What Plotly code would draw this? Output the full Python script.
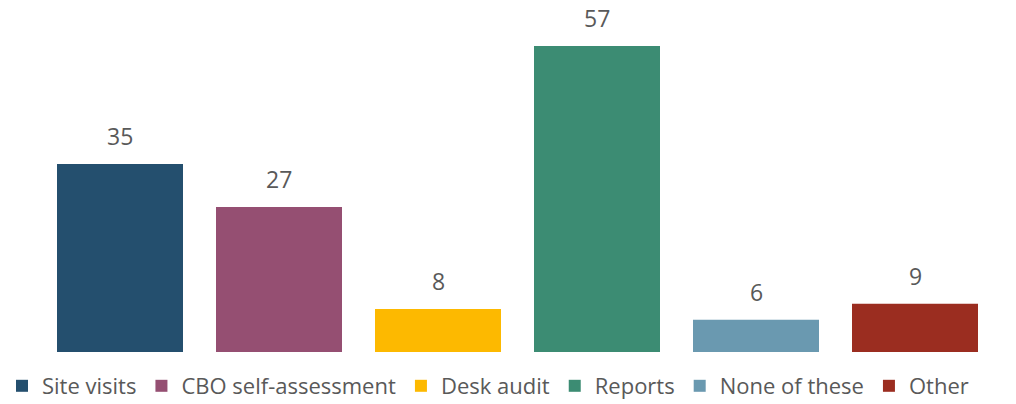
import plotly.graph_objects as go

categories = ["Site visits", "CBO self-assessment", "Desk audit", "Reports", "None of these", "Other"]
values = [35, 27, 8, 57, 6, 9]
colors = ["#244F6E", "#954F72", "#FDB900", "#3C8C73", "#6A99B0", "#9B2D20"]

FONT = "Open Sans"
GREY = "#595959"
W, H = 1016, 404

fig = go.Figure()
for cat, val, col in zip(categories, values, colors):
    fig.add_trace(go.Bar(
        x=[cat], y=[val], name=cat,
        marker=dict(color=col, line=dict(width=0)),
        hoverinfo="x+y",
    ))
    fig.add_annotation(
        x=cat, y=val, text=str(val), showarrow=False,
        yanchor="bottom", yshift=10,
        font=dict(family=FONT, size=23, color=GREY),
    )

fig.update_layout(
    width=W, height=H,
    margin=dict(l=0, r=0, t=0, b=0, autoexpand=False),
    paper_bgcolor="white", plot_bgcolor="white",
    barmode="overlay", bargap=0.2075,
    showlegend=True,
    legend=dict(
        orientation="h", x=2 / W, xanchor="left", y=1 - 386 / H, yanchor="middle",
        font=dict(family=FONT, size=22, color=GREY),
        itemsizing="constant", traceorder="normal",
    ),
    xaxis=dict(domain=[40.5 / W, 994.5 / W],
               showticklabels=False, showgrid=False, zeroline=False, showline=False,
               categoryorder="array", categoryarray=categories),
    yaxis=dict(domain=[(H - 352) / H, 1 - 3 / H], range=[0, 65],
               showticklabels=False, showgrid=False, zeroline=False, showline=False),
)

fig.write_html("out.html")
